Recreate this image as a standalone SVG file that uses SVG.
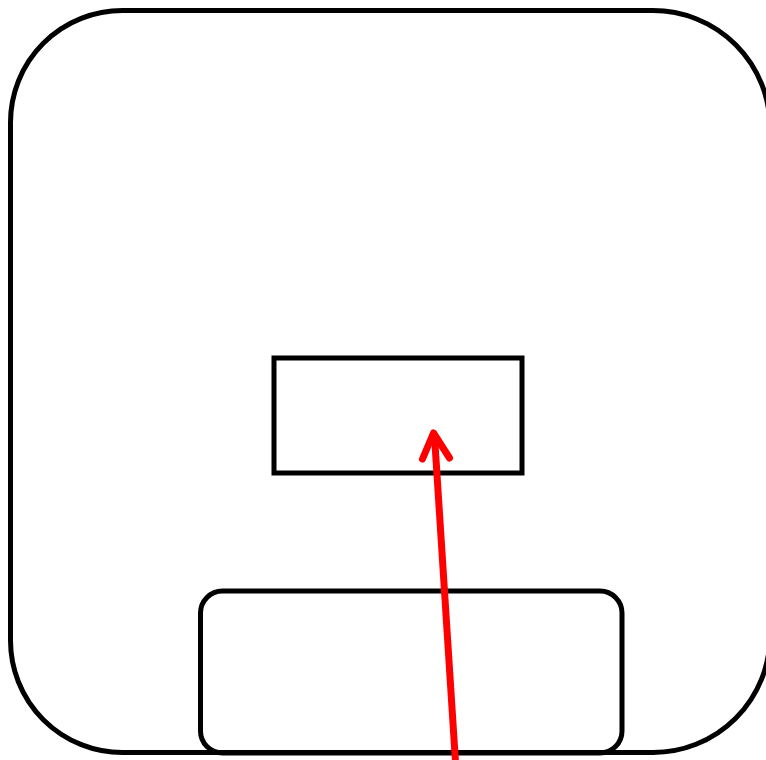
<svg xmlns="http://www.w3.org/2000/svg" width="766" height="760" viewBox="0 0 766 760">
<style>
.node{fill:none;stroke:#000;stroke-width:5}
.edge{fill:none;stroke:#ff0000;stroke-width:7;stroke-linecap:round;stroke-linejoin:round}
</style>
<rect width="766" height="760" fill="#fff"/>
<g id="outer"><path class="node" d="M122.5 10.5 H653 A117 117 0 0 1 770 127.5 V635.5 A117 117 0 0 1 653 752.5 H122.5 A112 112 0 0 1 10.5 640.5 V122.5 A112 112 0 0 1 122.5 10.5 Z"/></g>
<g id="inner"><rect class="node" x="274" y="358" width="248" height="115"/></g>
<g id="bottom"><rect class="node" x="200.5" y="591" width="421.5" height="162" rx="22" ry="22"/></g>
<g id="connectors">
<path class="edge" d="M455.5 762 L434.5 436"/>
<path class="edge" d="M422.5 459 L433.5 433 L449.5 458"/>
</g>
</svg>
